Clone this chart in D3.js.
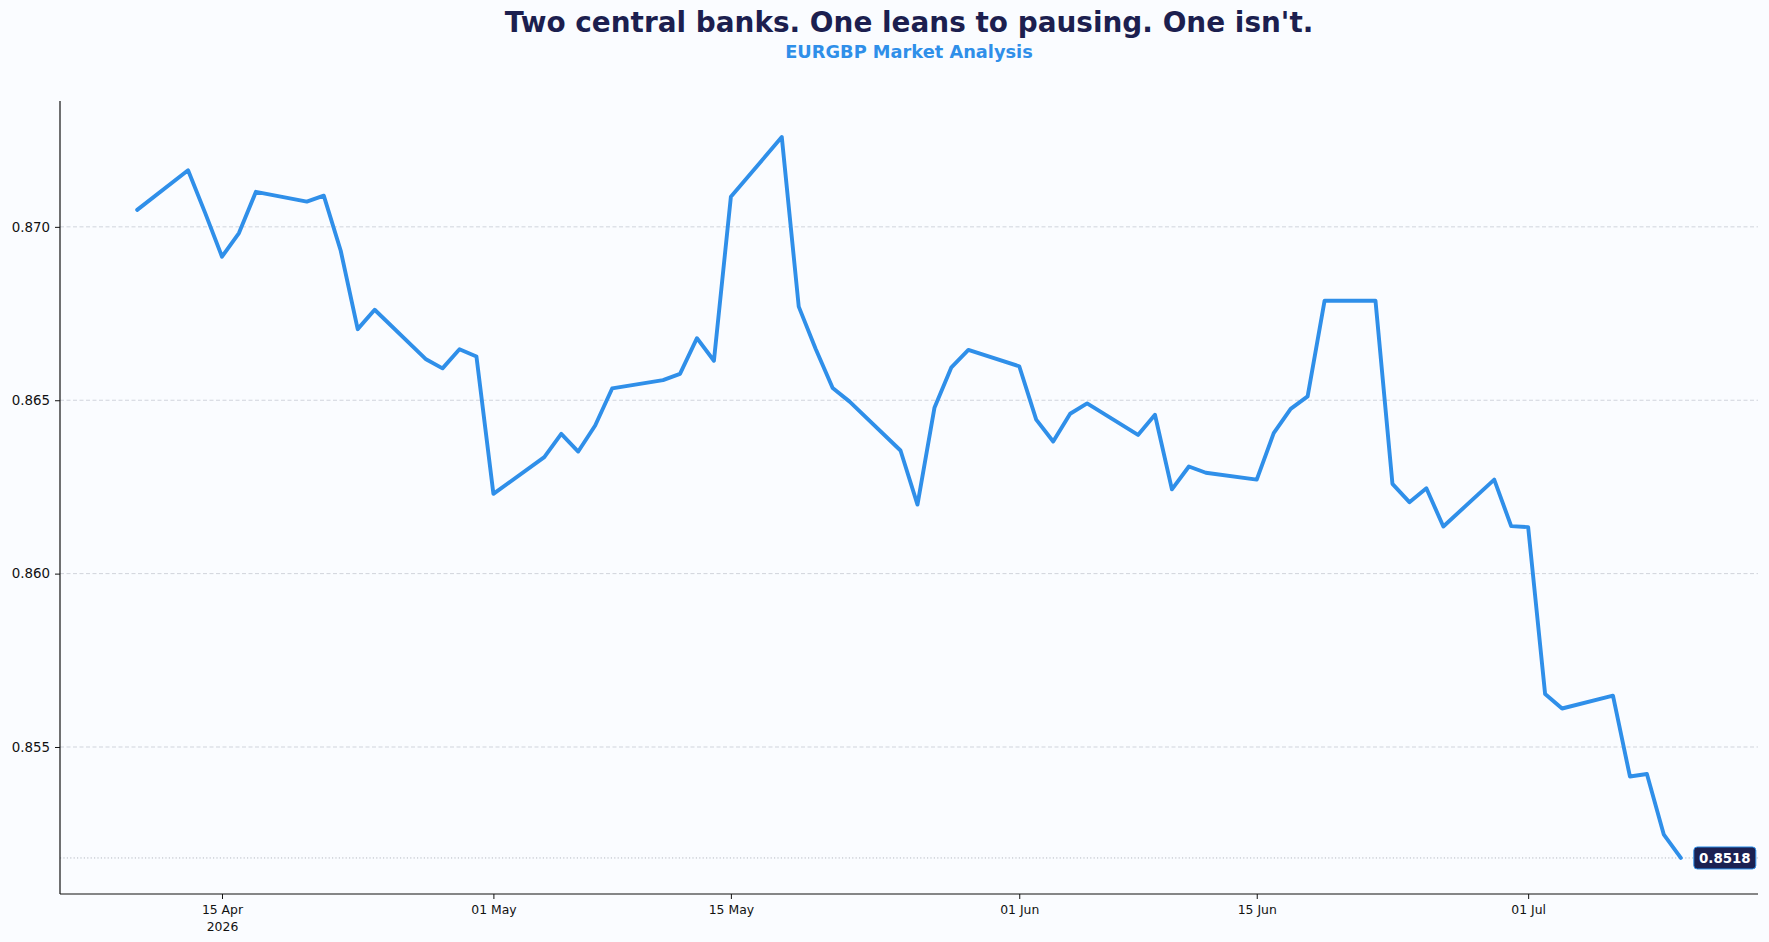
<!DOCTYPE html>
<html>
<head>
<meta charset="utf-8">
<script src="https://cdn.jsdelivr.net/npm/d3@7"></script>
<style>
  html, body { margin: 0; padding: 0; background: #fafcff; }
  svg { display: block; font-family: "DejaVu Sans", sans-serif; }
</style>
</head>
<body>
<svg id="chart" width="1769" height="942"></svg>
<script>
// ---- data ----
const dates = [
  "2026-04-10","2026-04-13","2026-04-14","2026-04-15","2026-04-16","2026-04-17",
  "2026-04-20","2026-04-21","2026-04-22","2026-04-23","2026-04-24",
  "2026-04-27","2026-04-28","2026-04-29","2026-04-30","2026-05-01",
  "2026-05-04","2026-05-05","2026-05-06","2026-05-07","2026-05-08",
  "2026-05-11","2026-05-12","2026-05-13","2026-05-14","2026-05-15",
  "2026-05-18","2026-05-19","2026-05-20","2026-05-21","2026-05-22",
  "2026-05-25","2026-05-26","2026-05-27","2026-05-28","2026-05-29",
  "2026-06-01","2026-06-02","2026-06-03","2026-06-04","2026-06-05",
  "2026-06-08","2026-06-09","2026-06-10","2026-06-11","2026-06-12",
  "2026-06-15","2026-06-16","2026-06-17","2026-06-18","2026-06-19",
  "2026-06-22","2026-06-23","2026-06-24","2026-06-25","2026-06-26",
  "2026-06-29","2026-06-30","2026-07-01","2026-07-02","2026-07-03",
  "2026-07-06","2026-07-07","2026-07-08","2026-07-09","2026-07-10"
];
const closes = [
  0.87049,0.87163,0.87041,0.86914,0.86982,0.87101,
  0.87073,0.87090,0.86931,0.86705,0.86761,
  0.86619,0.86592,0.86647,0.86626,0.86230,
  0.86336,0.86403,0.86352,0.86427,0.86534,
  0.86558,0.86576,0.86679,0.86614,0.87087,
  0.87259,0.86770,0.86648,0.86535,0.86496,
  0.86355,0.86199,0.86478,0.86595,0.86645,
  0.86598,0.86444,0.86381,0.86461,0.86491,
  0.86400,0.86458,0.86243,0.86309,0.86291,
  0.86271,0.86405,0.86475,0.86511,0.86787,
  0.86787,0.86259,0.86206,0.86246,0.86136,
  0.86271,0.86137,0.86134,0.85653,0.85611,
  0.85648,0.85415,0.85422,0.85247,0.85180
];
const xTickDates = ["2026-04-15","2026-05-01","2026-05-15","2026-06-01","2026-06-15","2026-07-01"];
const yTickValues = [0.855, 0.860, 0.865, 0.870];
const titleText = "Two central banks. One leans to pausing. One isn't.";
const subtitleText = "EURGBP Market Analysis";
const lastLabel = "0.8518";

// ---- setup ----
const W = 1769, H = 942;
const M = { left: 60, right: 1758, top: 101, bottom: 894 };
const parse = d3.utcParse("%Y-%m-%d");
const data = dates.map((d, i) => ({ date: parse(d), value: closes[i] }));

const svg = d3.select("#chart");
svg.append("rect").attr("width", W).attr("height", H).attr("fill", "#fafcff");

const xExt = d3.extent(data, d => +d.date);
const xPad = (xExt[1] - xExt[0]) * 0.05;
const x = d3.scaleUtc()
  .domain([new Date(xExt[0] - xPad), new Date(xExt[1] + xPad)])
  .range([M.left, M.right]);

const yExt = d3.extent(data, d => d.value);
const yPad = (yExt[1] - yExt[0]) * 0.05;
const y = d3.scaleLinear()
  .domain([yExt[0] - yPad, yExt[1] + yPad])
  .range([M.bottom, M.top]);

// gridlines
svg.append("g")
  .selectAll("line")
  .data(yTickValues)
  .join("line")
  .attr("x1", M.left).attr("x2", M.right)
  .attr("y1", d => y(d)).attr("y2", d => y(d))
  .attr("stroke", "#d0d4dc")
  .attr("stroke-width", 1)
  .attr("stroke-dasharray", "4,2.5");

// last value reference line
const last = data[data.length - 1];
svg.append("line")
  .attr("x1", M.left).attr("x2", M.right)
  .attr("y1", y(last.value)).attr("y2", y(last.value))
  .attr("stroke", "#b4b8c0")
  .attr("stroke-width", 1)
  .attr("stroke-dasharray", "1.2,2.2");

// line
const line = d3.line().x(d => x(d.date)).y(d => y(d.value));
svg.append("path")
  .datum(data)
  .attr("d", line)
  .attr("fill", "none")
  .attr("stroke", "#2f8fe9")
  .attr("stroke-width", 3.9)
  .attr("stroke-linejoin", "round")
  .attr("stroke-linecap", "round");

// y axis
const yAxis = d3.axisLeft(y)
  .tickValues(yTickValues)
  .tickFormat(d3.format(".3f"))
  .tickSize(5)
  .tickPadding(5);
const gy = svg.append("g").attr("transform", `translate(${M.left},0)`).call(yAxis);
gy.select(".domain").attr("stroke", "#111").attr("stroke-width", 1.2)
  .attr("d", `M0,${M.top}V${M.bottom}`);
gy.selectAll(".tick line").attr("stroke", "#111").attr("stroke-width", 1);
gy.selectAll(".tick text").attr("font-size", 13.4).attr("fill", "#111")
  .attr("font-family", "DejaVu Sans");

// x axis
const fmt = d3.utcFormat("%d %b");
const xAxis = d3.axisBottom(x)
  .tickValues(xTickDates.map(parse))
  .tickFormat(d => fmt(d))
  .tickSize(5)
  .tickPadding(6);
const gx = svg.append("g").attr("transform", `translate(0,${M.bottom})`).call(xAxis);
gx.select(".domain").attr("stroke", "#111").attr("stroke-width", 1.2)
  .attr("d", `M${M.left},0H${M.right}`);
gx.selectAll(".tick line").attr("stroke", "#111").attr("stroke-width", 1);
gx.selectAll(".tick text").attr("font-size", 12.4).attr("fill", "#111")
  .attr("font-family", "DejaVu Sans");
// year under first tick
gx.selectAll(".tick").filter((d, i) => i === 0)
  .append("text")
  .attr("y", 36.5)
  .attr("fill", "#111")
  .attr("font-size", 12.4)
  .attr("text-anchor", "middle")
  .attr("font-family", "DejaVu Sans")
  .text(d3.utcFormat("%Y")(parse(xTickDates[0])));

// last value label
const lx = x(last.date) + 13, ly = y(last.value);
const lbl = svg.append("g").attr("transform", `translate(${lx},${ly})`);
lbl.append("rect")
  .attr("x", 0).attr("y", -11)
  .attr("width", 62).attr("height", 22)
  .attr("rx", 3.5)
  .attr("fill", "#1b2152")
  .attr("stroke", "#2f8fe9")
  .attr("stroke-width", 1);
lbl.append("text")
  .attr("x", 31).attr("y", 0)
  .attr("dy", "0.36em")
  .attr("text-anchor", "middle")
  .attr("font-size", 13.4)
  .attr("font-weight", "bold")
  .attr("fill", "#ffffff")
  .text(lastLabel);

// title & subtitle
const cx = (M.left + M.right) / 2;
svg.append("text")
  .attr("x", cx).attr("y", 31.5)
  .attr("text-anchor", "middle")
  .attr("font-size", 27.9)
  .attr("font-weight", "bold")
  .attr("fill", "#1c1f4f")
  .text(titleText);
svg.append("text")
  .attr("x", cx).attr("y", 57.5)
  .attr("text-anchor", "middle")
  .attr("font-size", 17.8)
  .attr("font-weight", "bold")
  .attr("fill", "#2f8fe9")
  .text(subtitleText);
</script>
</body>
</html>
